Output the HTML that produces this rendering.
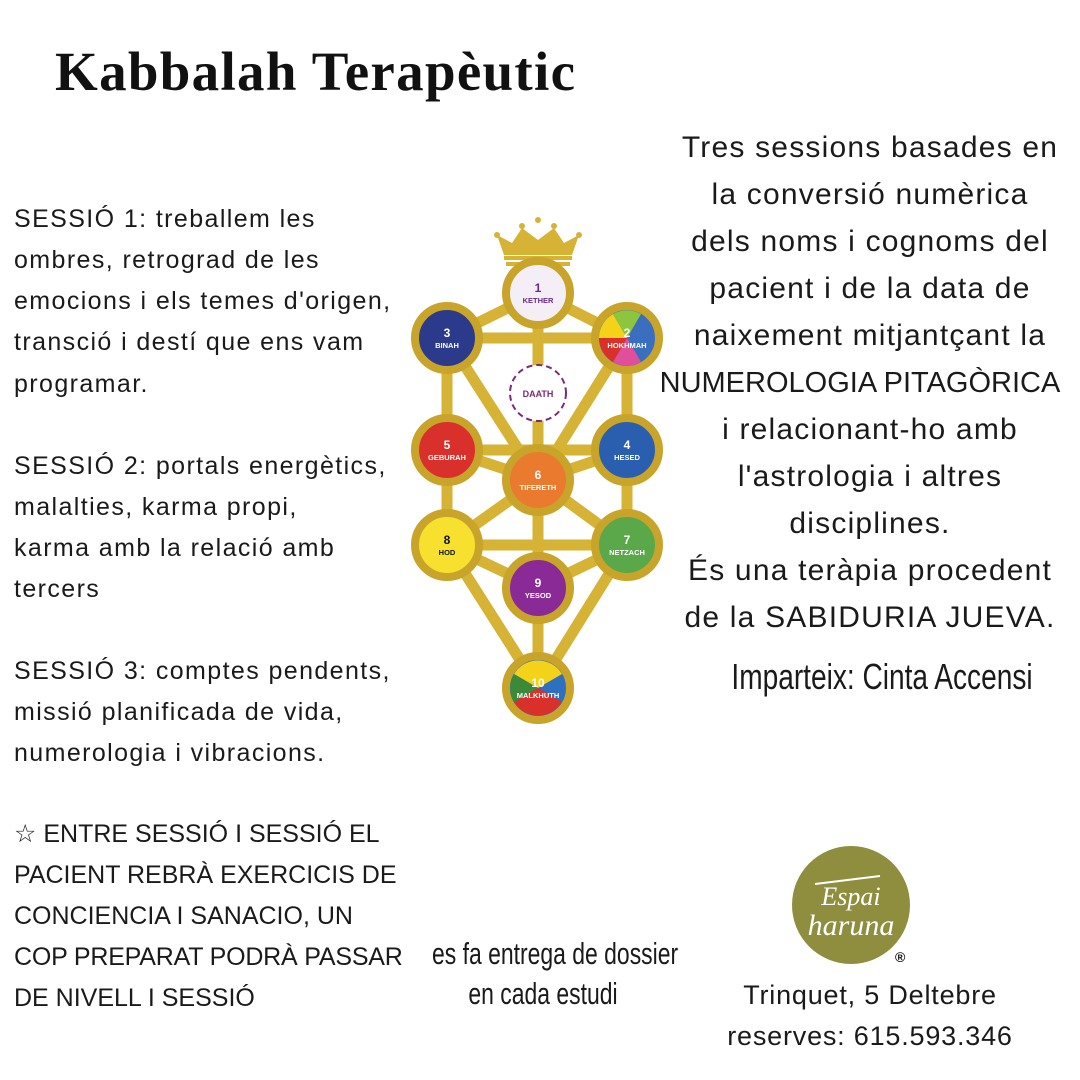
<!DOCTYPE html>
<html><head><meta charset="utf-8"><style>
body{margin:0;width:1080px;height:1080px;background:#fff;position:relative;overflow:hidden;font-family:"Liberation Sans",sans-serif;color:#1a1a1a}
.l{position:absolute;left:14px;font-size:25px;line-height:30px;white-space:nowrap;letter-spacing:1.4px}
.c{letter-spacing:0}
.r{position:absolute;left:660px;width:420px;text-align:center;font-size:30px;line-height:34px;white-space:nowrap;letter-spacing:1.2px}
.n{position:absolute;white-space:nowrap;text-align:center;transform:scaleX(0.74);transform-origin:center}
</style></head><body>
<div style="position:absolute;left:55px;top:40px;font-family:'Liberation Serif',serif;font-weight:bold;font-size:55px;line-height:64px;color:#111;letter-spacing:1.3px">Kabbalah Terapèutic</div>

<div class="l" style="top:204px">SESSIÓ 1: treballem les</div>
<div class="l" style="top:245px">ombres, retrograd de les</div>
<div class="l" style="top:286px">emocions i els temes d'origen,</div>
<div class="l" style="top:327px">transció i destí que ens vam</div>
<div class="l" style="top:369px">programar.</div>
<div class="l" style="top:451px">SESSIÓ 2: portals energètics,</div>
<div class="l" style="top:492px">malalties, karma propi,</div>
<div class="l" style="top:533px">karma amb la relació amb</div>
<div class="l" style="top:574px">tercers</div>
<div class="l" style="top:656px">SESSIÓ 3: comptes pendents,</div>
<div class="l" style="top:697px">missió planificada de vida,</div>
<div class="l" style="top:738px">numerologia i vibracions.</div>
<div class="l c" style="top:819px">☆ ENTRE SESSIÓ I SESSIÓ EL</div>
<div class="l c" style="top:860px">PACIENT REBRÀ EXERCICIS DE</div>
<div class="l c" style="top:901px">CONCIENCIA I SANACIO, UN</div>
<div class="l c" style="top:942px;letter-spacing:-0.2px">COP PREPARAT PODRÀ PASSAR</div>
<div class="l c" style="top:983px">DE NIVELL I SESSIÓ</div>

<div class="r" style="top:131px">Tres sessions basades en</div>
<div class="r" style="top:178px">la conversió numèrica</div>
<div class="r" style="top:225px">dels noms i cognoms del</div>
<div class="r" style="top:272px">pacient i de la data de</div>
<div class="r" style="top:319px">naixement mitjantçant la</div>
<div class="r" style="top:366px;left:650px;letter-spacing:0;font-size:29px">NUMEROLOGIA PITAGÒRICA</div>
<div class="r" style="top:413px">i relacionant-ho amb</div>
<div class="r" style="top:460px">l'astrologia i altres</div>
<div class="r" style="top:507px">disciplines.</div>
<div class="r" style="top:554px">És una teràpia procedent</div>
<div class="r" style="top:601px">de la SABIDURIA JUEVA.</div>
<div class="n" style="left:682px;width:400px;top:656px;font-size:36px;line-height:42px;transform:scaleX(0.78)">Imparteix: Cinta Accensi</div>

<div class="n" style="left:393px;width:300px;top:936px;font-size:31px;line-height:36px">es fa entrega de dossier</div>
<div class="n" style="left:393px;width:300px;top:976px;font-size:31px;line-height:36px">en cada estudi</div>

<div style="position:absolute;left:670px;width:400px;text-align:center;top:978px;font-size:27px;line-height:34px;letter-spacing:0.8px">Trinquet, 5 Deltebre</div>
<div style="position:absolute;left:670px;width:400px;text-align:center;top:1019px;font-size:27px;line-height:34px;letter-spacing:0.8px">reserves: 615.593.346</div>

<svg style="position:absolute;left:0;top:0" width="1080" height="1080">
<circle cx="851" cy="905" r="59" fill="#8f8e3f"/>
<text x="851" y="905" text-anchor="middle" font-family="Liberation Serif" font-style="italic" font-size="26" fill="#fff">Espai</text>
<text x="851" y="935" text-anchor="middle" font-family="Liberation Serif" font-style="italic" font-size="30" fill="#fff">haruna</text>
<path d="M815 884 L880 876" stroke="#fff" stroke-width="2"/>
<text x="895" y="962" font-family="Liberation Sans" font-weight="bold" font-size="14" fill="#111">®</text>

<g stroke="#d6b235" stroke-width="11" stroke-linecap="round">
<line x1="538" y1="293" x2="447" y2="338"/><line x1="538" y1="293" x2="627" y2="338"/>
<line x1="447" y1="338" x2="627" y2="338"/>
<line x1="538" y1="293" x2="538" y2="688"/>
<line x1="447" y1="338" x2="447" y2="545"/><line x1="627" y1="338" x2="627" y2="545"/>
<line x1="447" y1="338" x2="538" y2="480"/><line x1="627" y1="338" x2="538" y2="480"/>
<line x1="447" y1="450" x2="627" y2="450"/>
<line x1="447" y1="450" x2="538" y2="480"/><line x1="627" y1="450" x2="538" y2="480"/>
<line x1="447" y1="545" x2="538" y2="480"/><line x1="627" y1="545" x2="538" y2="480"/>
<line x1="447" y1="545" x2="627" y2="545"/>
<line x1="447" y1="545" x2="538" y2="588"/><line x1="627" y1="545" x2="538" y2="588"/>
<line x1="447" y1="545" x2="538" y2="688"/><line x1="627" y1="545" x2="538" y2="688"/>
</g>
<circle cx="538" cy="393" r="28" fill="#fff" stroke="#7a2a7a" stroke-width="2" stroke-dasharray="6 4"/>
<text x="538" y="397" text-anchor="middle" font-size="9" font-weight="bold" fill="#7a2a7a" font-family="Liberation Sans">DAATH</text>
<g fill="#d6b235">
<path d="M497 235 L512 243 L522 228 L538 240 L554 228 L564 243 L579 235 L572 255 L504 255 Z"/>
<rect x="504" y="256" width="68" height="4"/><rect x="506" y="262" width="64" height="4"/>
<circle cx="497" cy="235" r="3"/><circle cx="522" cy="226" r="3"/><circle cx="538" cy="220" r="3"/><circle cx="554" cy="226" r="3"/><circle cx="579" cy="235" r="3"/>
</g>
<g font-family="Liberation Sans" font-weight="bold" text-anchor="middle">
<g stroke="#c9a42a" stroke-width="8">
<circle cx="538" cy="293" r="32" fill="#f4eef6"/>
<circle cx="447" cy="338" r="32" fill="#2b3a8a"/>
<circle cx="627" cy="338" r="32" fill="#3a6fc0"/>
<circle cx="447" cy="450" r="32" fill="#d9302c"/>
<circle cx="627" cy="450" r="32" fill="#2a5fb0"/>
<circle cx="538" cy="480" r="32" fill="#ea7a2e"/>
<circle cx="447" cy="545" r="32" fill="#f7e02e"/>
<circle cx="627" cy="545" r="32" fill="#5aa84a"/>
<circle cx="538" cy="588" r="32" fill="#8a2a96"/>
<circle cx="538" cy="688" r="32" fill="#2f6fc0"/>
</g>
<path d="M627 338 L599 338 A28 28 0 0 1 613 314 Z" fill="#f5d21a"/>
<path d="M627 338 L613 314 A28 28 0 0 1 641 314 Z" fill="#8cc63e"/>
<path d="M627 338 L641 362 A28 28 0 0 1 613 362 Z" fill="#e0509a"/>
<path d="M627 338 L613 362 A28 28 0 0 1 599 338 Z" fill="#d9302c"/>
<path d="M538 688 L514 674 A28 28 0 0 1 562 674 Z" fill="#f5d21a"/>
<path d="M538 688 L562 702 A28 28 0 0 1 514 702 Z" fill="#d9302c"/>
<path d="M538 688 L514 674 A28 28 0 0 0 514 702 Z" fill="#3a8a3a"/>
<g font-size="12"><text x="538" y="292" fill="#6a2a8a">1</text><text x="447" y="337" fill="#fff">3</text><text x="627" y="337" fill="#fff">2</text><text x="447" y="449" fill="#fff">5</text><text x="627" y="449" fill="#fff">4</text><text x="538" y="479" fill="#fff">6</text><text x="447" y="544" fill="#111">8</text><text x="627" y="544" fill="#fff">7</text><text x="538" y="587" fill="#fff">9</text><text x="538" y="687" fill="#fff">10</text></g>
<g font-size="7.5"><text x="538" y="303" fill="#6a2a8a">KETHER</text><text x="447" y="348" fill="#fff">BINAH</text><text x="627" y="348" fill="#fff">HOKHMAH</text><text x="447" y="460" fill="#fff">GEBURAH</text><text x="627" y="460" fill="#fff">HESED</text><text x="538" y="490" fill="#fff">TIFERETH</text><text x="447" y="555" fill="#111">HOD</text><text x="627" y="555" fill="#fff">NETZACH</text><text x="538" y="598" fill="#fff">YESOD</text><text x="538" y="698" fill="#fff">MALKHUTH</text></g>
</g>
</svg>
</body></html>
